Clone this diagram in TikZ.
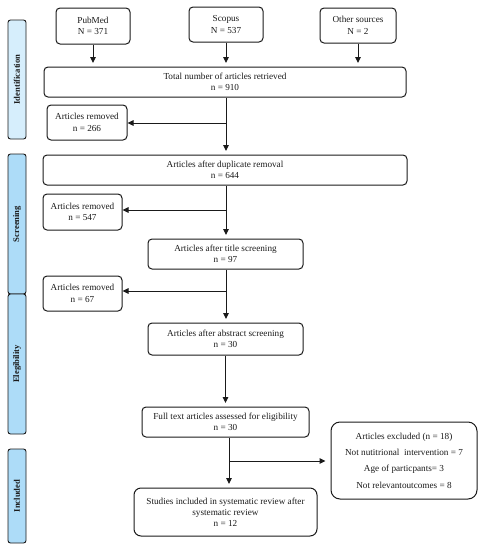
\documentclass[tikz,border=0pt]{standalone}
\usepackage{fontspec}
\setmainfont{Liberation Serif}
\usetikzlibrary{arrows.meta}
\definecolor{barA}{HTML}{D6EEFC}
\definecolor{barB}{HTML}{ADDCF8}
\definecolor{ink}{HTML}{1A1A1A}
\begin{document}
\begin{tikzpicture}[x=1pt,y=-1pt,
  box/.style={draw=ink,line width=1pt,rounded corners=4pt,inner sep=0pt,align=center,
    font=\fontsize{9.2}{11.5}\selectfont,text=ink},
  bar/.style={draw=ink,line width=0.9pt,rounded corners=2.5pt,inner sep=0pt,minimum width=18pt},
  barlab/.style={rotate=90,font=\fontsize{8.6}{10}\selectfont\bfseries,text=ink},
  arr/.style={draw=ink,line width=1pt,-{Triangle[length=6pt,width=5.5pt]}},
  downarr/.style={arr,shorten >=3.5pt}]
\useasboundingbox (0,0) rectangle (484,550);
% side bars
\node[bar,fill=barA,minimum height=119pt] (bid) at (17,79.5) {};
\node[barlab] (lid) at (bid.center) {Identification};
\node[bar,fill=barB,minimum height=140pt] (bsc) at (17,224) {};
\node[barlab] (lsc) at (bsc.center) {Screening};
\node[bar,fill=barB,minimum height=140pt] (bel) at (17,364) {};
\node[barlab] (lel) at (bel.center) {Elegibility};
\node[bar,fill=barB,minimum height=94pt] (bin) at (17,496) {};
\node[barlab] (lin) at (bin.center) {Included};
% boxes
\node[box,minimum width=74pt,minimum height=36pt] (pub) at (93,26) {PubMed\\N = 371};
\node[box,minimum width=74pt,minimum height=35pt] (sco) at (226,24.5) {Scopus\\N = 537};
\node[box,minimum width=76pt,minimum height=35pt] (oth) at (358,25.5) {Other sources\\N = 2};
\node[box,minimum width=362pt,minimum height=30pt] (tot) at (225,82) {Total number of articles retrieved\\n = 910};
\node[box,minimum width=80pt,minimum height=35pt] (rem1) at (87,122.5) {Articles removed\\n = 266};
\node[box,minimum width=364pt,minimum height=30pt] (dup) at (225,170) {Articles after duplicate removal\\n = 644};
\node[box,minimum width=79pt,minimum height=36pt] (rem2) at (82.5,212) {Articles removed\\n = 547};
\node[box,minimum width=155pt,minimum height=30pt] (tit) at (225.5,254) {Articles after title screening\\n = 97};
\node[box,minimum width=79pt,minimum height=35pt] (rem3) at (82.5,293.5) {Articles removed\\n = 67};
\node[box,minimum width=155pt,minimum height=32pt] (abs) at (225.5,339) {Articles after abstract screening\\n = 30};
\node[box,minimum width=167pt,minimum height=30pt] (full) at (225.5,422) {Full text articles assessed for eligibility\\n = 30};
\node[box,rounded corners=9pt,minimum width=146pt,minimum height=77pt,font=\fontsize{9.2}{16.3}\selectfont] (exc) at (404,460.5)
  {Articles excluded (n = 18)\\Not nutitrional\ \ intervention = 7\\Age of particpants= 3\\Not relevantoutcomes = 8};
\node[box,rounded corners=7pt,minimum width=183pt,minimum height=48pt,font=\fontsize{9.2}{11}\selectfont] (inc) at (225.5,512)
  {Studies included in systematic review after\\systematic review\\n = 12};
% junction coordinates
\coordinate (j1) at (226,123);
\coordinate (j2) at (226,210);
\coordinate (j3) at (226,291);
\coordinate (j4) at (229,461);
% arrows
\draw[downarr] (pub.south) -- (pub.south |- tot.north);
\draw[downarr] (sco.south) -- (sco.south |- tot.north);
\draw[downarr] (oth.south) -- (oth.south |- tot.north);
\draw[downarr] (tot.south -| j1) -- (dup.north -| j1);
\draw[arr] (j1) -- (rem1.east |- j1);
\draw[downarr] (dup.south -| j2) -- (tit.north -| j2);
\draw[arr] (j2) -- (rem2.east |- j2);
\draw[downarr] (tit.south -| j3) -- (abs.north -| j3);
\draw[arr] (j3) -- (rem3.east |- j3);
\draw[downarr] (abs.south) -- (full.north);
\draw[downarr] (full.south -| j4) -- (inc.north -| j4);
\draw[arr,shorten >=5pt] (j4) -- (exc.west |- j4);
\end{tikzpicture}
\end{document}
